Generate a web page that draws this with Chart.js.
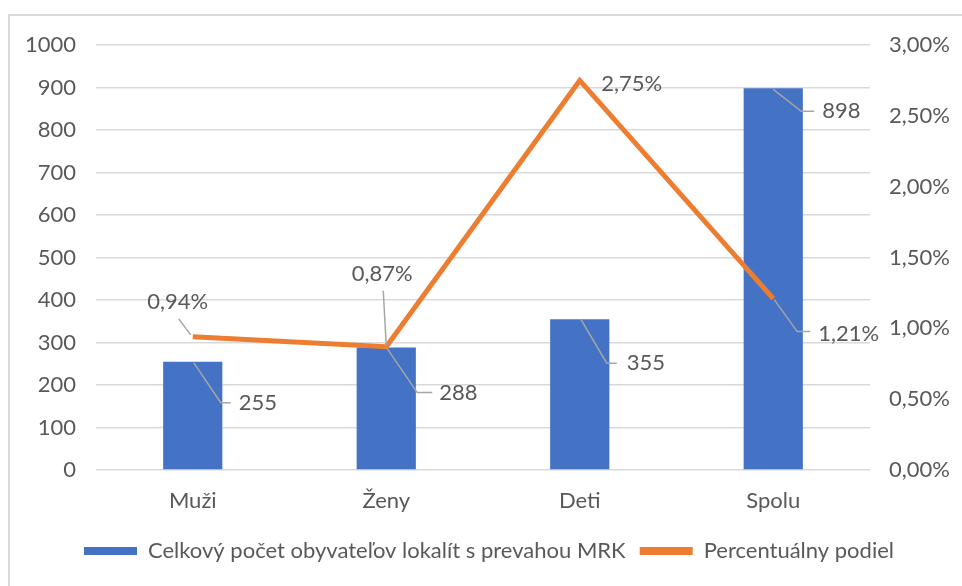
<!DOCTYPE html>
<html>
<head>
<meta charset="utf-8">
<script src="https://cdn.jsdelivr.net/npm/chart.js@4.4.1/dist/chart.umd.min.js"></script>
<style>
  html, body { margin:0; padding:0; background:#fff; overflow:hidden; }
  #wrap { position:relative; width:962px; height:586px; }
  #frame { position:absolute; left:8px; top:14px; width:1000px; height:700px; border:2px solid #d9d9d9; box-sizing:border-box; pointer-events:none; }
  canvas { position:absolute; left:0; top:0; }
</style>
</head>
<body>
<div id="wrap">
  <canvas id="graf" width="962" height="586"></canvas>
  <div id="frame"></div>
</div>
<script>
const kategorie = ["Muži", "Ženy", "Deti", "Spolu"];
const pocetObyvatelov = [255, 288, 355, 898];
const percentualnyPodiel = [0.94, 0.87, 2.75, 1.21];
const nazovStlpce = "Celkový počet obyvateľov lokalít s prevahou MRK";
const nazovCiara = "Percentuálny podiel";

const MODRA = "#4472C4", ORANZ = "#ED7D31", TEXT = "#595959", MRIEZKA = "#d9d9d9";
const FONT = "Lato, 'Open Sans', sans-serif";
const VEL = 22;

const fmtPct = v => v.toFixed(2).replace(".", ",") + "%";

// umiestnenie popiskov (relativne k bodu), s ciarou k popisku
const popiskyStlpce = [
  { leader:[[1,1],[28,41],[38,41]], tx:46, ty:41, align:"left" },
  { leader:[[1,1],[31,45],[46,45]], tx:53, ty:45, align:"left" },
  { leader:[[1,0],[27,44],[37,44]], tx:47, ty:44, align:"left" },
  { leader:[[0,1],[28,23],[41,23]], tx:49, ty:23, align:"left" }
];
const popiskyCiara = [
  { leader:[[-14,-18],[-2,-2]], tx:-15, ty:-35, align:"center" },
  { leader:[[-3,-56],[0,-1]], tx:-4, ty:-73, align:"center" },
  { leader:null, tx:52, ty:3, align:"center" },
  { leader:[[1,1],[24,33],[37,33]], tx:45, ty:35, align:"left" }
];

const popiskyPlugin = {
  id: "popisky",
  afterDatasetsDraw(chart) {
    const ctx = chart.ctx;
    ctx.save();
    ctx.font = VEL + "px " + FONT;
    ctx.textBaseline = "middle";
    chart.data.datasets.forEach((ds, di) => {
      const meta = chart.getDatasetMeta(di);
      const layout = ds.type === "line" ? popiskyCiara : popiskyStlpce;
      meta.data.forEach((el, i) => {
        const p = layout[i];
        if (!p) return;
        if (p.leader) {
          ctx.strokeStyle = "#a6a6a6";
          ctx.lineWidth = 1.5;
          ctx.beginPath();
          p.leader.forEach(([dx, dy], k) => {
            if (k === 0) ctx.moveTo(el.x + dx, el.y + dy);
            else ctx.lineTo(el.x + dx, el.y + dy);
          });
          ctx.stroke();
        }
        const v = ds.data[i];
        const txt = ds.type === "line" ? fmtPct(v) : String(v);
        ctx.fillStyle = TEXT;
        ctx.textAlign = p.align;
        ctx.fillText(txt, el.x + p.tx, el.y + p.ty);
      });
    });
    ctx.restore();
  }
};

new Chart(document.getElementById("graf"), {
  type: "bar",
  data: {
    labels: kategorie,
    datasets: [
      {
        type: "line",
        label: nazovCiara,
        data: percentualnyPodiel,
        yAxisID: "y1",
        borderColor: ORANZ,
        backgroundColor: ORANZ,
        borderWidth: 5,
        pointRadius: 0,
        tension: 0,
        order: 0
      },
      {
        label: nazovStlpce,
        data: pocetObyvatelov,
        yAxisID: "y",
        backgroundColor: MODRA,
        categoryPercentage: 1,
        barPercentage: 0.306,
        order: 1
      }
    ]
  },
  options: {
    responsive: false,
    animation: false,
    layout: { padding: { top: 45, bottom: 14, left: 16, right: 0 } },
    plugins: {
      tooltip: { enabled: false },
      legend: {
        position: "bottom",
        labels: {
          color: TEXT,
          font: { size: VEL, family: FONT },
          boxWidth: 53,
          boxHeight: 8,
          padding: 14,
          generateLabels(chart) {
            return [
              { text: nazovStlpce, fillStyle: MODRA, strokeStyle: MODRA, lineWidth: 0, fontColor: TEXT, datasetIndex: 1 },
              { text: nazovCiara, fillStyle: ORANZ, strokeStyle: ORANZ, lineWidth: 0, fontColor: TEXT, datasetIndex: 0 }
            ];
          }
        }
      }
    },
    scales: {
      x: {
        grid: { display: false },
        border: { display: false },
        ticks: { color: TEXT, font: { size: VEL, family: FONT }, padding: 10 },
        afterFit(s) { s.height = 56; }
      },
      y: {
        position: "left",
        min: 0, max: 1000,
        ticks: { stepSize: 100, color: TEXT, font: { size: VEL, family: FONT }, padding: 20, callback: v => String(v) },
        grid: { color: MRIEZKA, lineWidth: 1.5, drawTicks: false },
        border: { display: false },
        afterFit(s) { s.width = 80; }
      },
      y1: {
        position: "right",
        min: 0, max: 3,
        ticks: { stepSize: 0.5, color: TEXT, font: { size: VEL, family: FONT }, padding: 19, callback: v => fmtPct(v) },
        grid: { display: false, drawTicks: false },
        border: { display: false },
        afterFit(s) { s.width = 92; }
      }
    }
  },
  plugins: [popiskyPlugin]
});
</script>
</body>
</html>
